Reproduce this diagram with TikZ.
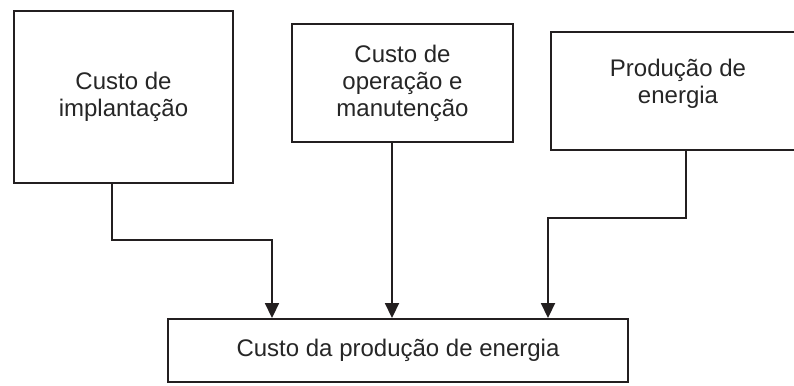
\documentclass[tikz,border=0pt]{standalone}
\usepackage{fontspec}
\setmainfont{Liberation Sans}
\usetikzlibrary{arrows.meta}
\definecolor{ink}{HTML}{231F20}
\definecolor{txtc}{HTML}{262626}
\tikzset{
  boxst/.style={draw=ink, line width=1.9pt, fill=white, inner sep=0pt},
  txtst/.style={text=txtc, font=\fontsize{24pt}{27pt}\selectfont, align=center, inner sep=0pt},
  conn/.style={draw=ink, line width=1.8pt, -{Triangle[width=14pt,length=15pt]}}
}
\begin{document}
\begin{tikzpicture}[x=1pt,y=-1pt]
\useasboundingbox (0,0) rectangle (794,385);
\clip (0,0) rectangle (794,385);
\fill[white] (0,0) rectangle (794,385);
% boxes
\node[boxst, txtst, minimum width=219pt, minimum height=172pt] (b1) at (123.5,97) {Custo de\\implantação};
\node[boxst, txtst, minimum width=221pt, minimum height=118pt] (b2) at (402.5,83) {Custo de\\operação e\\manutenção};
\node[boxst, minimum width=254pt, minimum height=118pt] (b3) at (678,91) {};
\node[txtst] (t3) at (678,84) {Produção de\\energia};
\node[boxst, txtst, minimum width=460pt, minimum height=63pt] (b4) at (398,350.5) {Custo da produção de energia};
% connector points
\coordinate (k1) at (112,240);
\coordinate (k1b) at (272,240);
\coordinate (m2) at (392,240);
\coordinate (k3) at (686,218);
\coordinate (k3b) at (548,218);
% connectors
\draw[conn] (b1.south -| k1) -- (k1) -- (k1b) -- (k1b |- b4.north);
\draw[conn] (b2.south -| m2) -- (m2 |- b4.north);
\draw[conn] (b3.south -| k3) -- (k3) -- (k3b) -- (k3b |- b4.north);
\end{tikzpicture}
\end{document}
